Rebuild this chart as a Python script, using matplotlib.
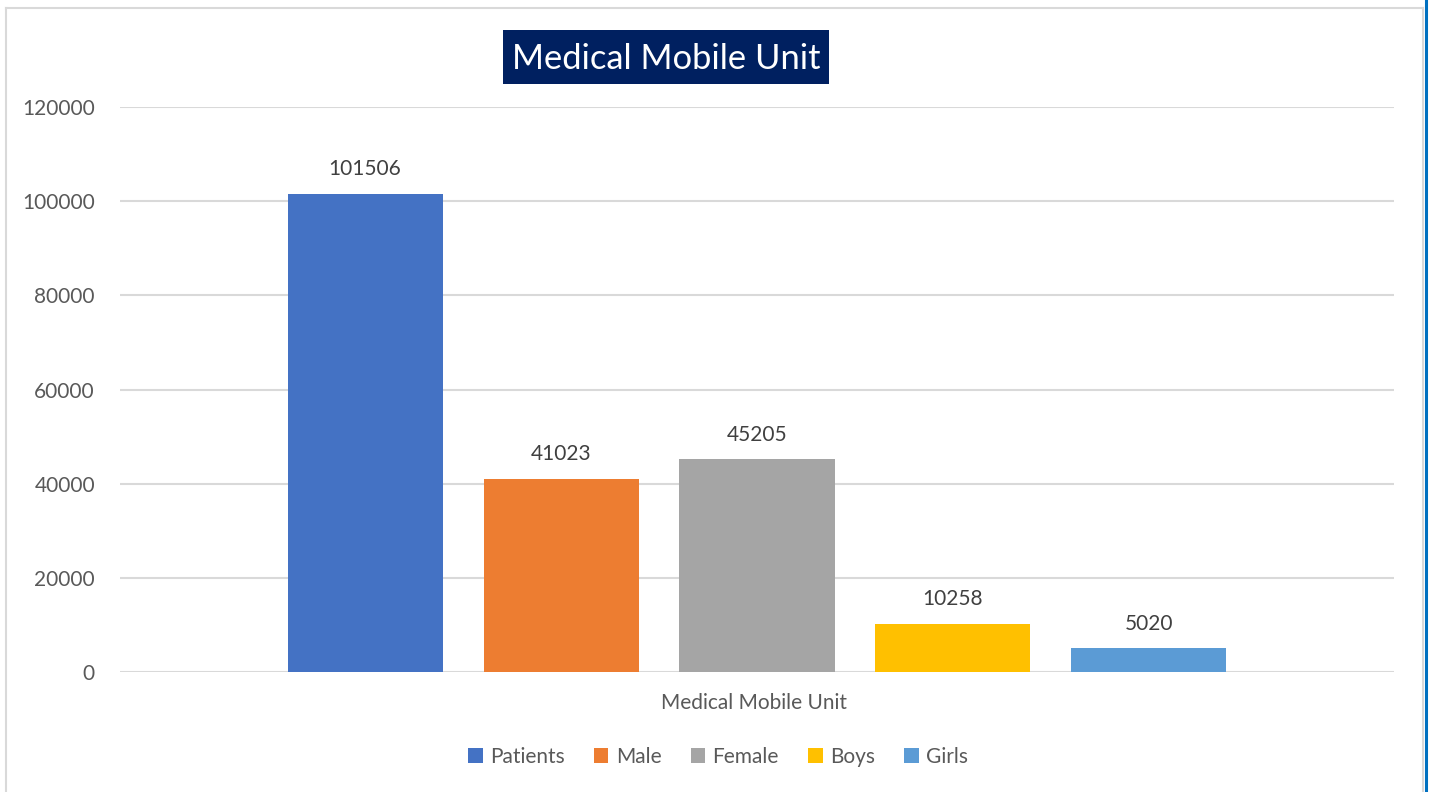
import matplotlib.pyplot as plt
from matplotlib.patches import Rectangle, Patch
from matplotlib.lines import Line2D

plt.rcParams['font.family'] = ['Lato', 'DejaVu Sans']

# data
series = ['Patients', 'Male', 'Female', 'Boys', 'Girls']
values = [101506, 41023, 45205, 10258, 5020]
colors = ['#4472C4', '#ED7D31', '#A5A5A5', '#FFC000', '#5B9BD5']
category = 'Medical Mobile Unit'
chart_title = 'Medical Mobile Unit'
yticks = [0, 20000, 40000, 60000, 80000, 100000, 120000]

W, H = 1432, 792
fig = plt.figure(figsize=(W / 100, H / 100), dpi=100)
fig.patch.set_facecolor('white')

# chart border (light gray) + blue edge on the right
fig.add_artist(Line2D([6 / W, 6 / W], [0, 1 - 8 / H], color='#D9D9D9', lw=1.5, transform=fig.transFigure))
fig.add_artist(Line2D([6 / W, 1423 / W], [1 - 8 / H, 1 - 8 / H], color='#D9D9D9', lw=1.5, transform=fig.transFigure))
fig.add_artist(Line2D([1423 / W, 1423 / W], [0, 1 - 8 / H], color='#D9D9D9', lw=1.5, transform=fig.transFigure))
fig.add_artist(Line2D([1426 / W, 1426 / W], [0, 1], color='#0070C0', lw=2.2, transform=fig.transFigure))

ax = fig.add_axes([120 / W, 1 - 672 / H, (1394 - 120) / W, (672 - 107) / H])
ax.set_xlim(0, 1)
ax.set_ylim(0, 120000)

spacing = 0.1538
width = 0.1217
for i, (name, v, c) in enumerate(zip(series, values, colors)):
    x = 0.5 + (i - 2) * spacing
    ax.bar(x, v, width=width, color=c, zorder=3)
    ax.annotate(str(v), (x, v), xytext=(0, 10.5), textcoords='offset points',
                ha='center', va='bottom', fontsize=15, color='#404040')

ax.set_yticks(yticks)
ax.set_yticklabels([str(t) for t in yticks], fontsize=15, color='#595959')
ax.tick_params(axis='y', length=0, pad=18)
ax.set_xticks([])
ax.grid(axis='y', color='#D9D9D9', lw=1.5, zorder=0)
for s in ax.spines.values():
    s.set_visible(False)
ax.axhline(0, color='#D9D9D9', lw=1.8, zorder=2)
ax.set_facecolor('none')

# category label under the axis
fig.text(754 / W, 1 - 703 / H, category, ha='center', va='center', fontsize=15, color='#595959')

# title in a navy box
fig.add_artist(Rectangle((503 / W, 1 - 84 / H), (829 - 503) / W, (84 - 30) / H,
                         facecolor='#002060', edgecolor='none', transform=fig.transFigure))
fig.text(666 / W, 1 - 59 / H, chart_title, ha='center', va='center', fontsize=24.8, color='white')

handles = [Patch(facecolor=c, edgecolor='none') for c in colors]
fig.legend(handles, series, loc='center', bbox_to_anchor=(718 / W, 1 - 757 / H), ncol=5,
           frameon=False, fontsize=15, labelcolor='#595959', handlelength=0.7, handleheight=0.7,
           handletextpad=0.35, columnspacing=1.4)

fig.savefig('out.png', dpi=100)
